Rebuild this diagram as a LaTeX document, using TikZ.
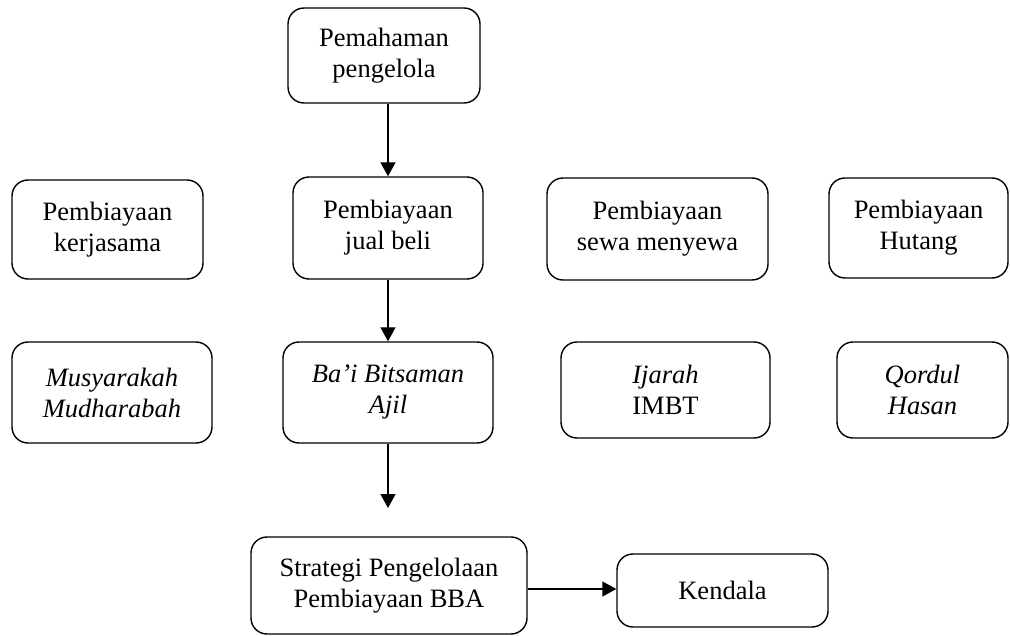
\documentclass[tikz,border=0pt]{standalone}
\usepackage{fontspec}
\setmainfont{Liberation Serif}
\usetikzlibrary{arrows.meta}
\begin{document}
\begin{tikzpicture}[
       x=1pt,
       y=-1pt,
       line width=1.4pt,
       kotak/.style={
         draw,
         rounded corners=16pt,
         align=center,
         inner sep=0pt,
         font=\fontsize{26.5}{31}\selectfont
       },
       panah/.style={
         -{Triangle[length=14pt,width=15pt]}
       }
     ]
       \useasboundingbox (0,0) rectangle (1010,636);

       \node (pemahaman) at (384,55.5) [kotak,minimum width=192pt,minimum height=95pt]{Pemahaman\\pengelola};

       \node (kerjasama) at (107.5,229.5) [kotak,minimum width=191pt,minimum height=99pt]{Pembiayaan\\kerjasama};
       \node (jualbeli) at (388,228) [kotak,minimum width=190pt,minimum height=102pt]{Pembiayaan\\jual beli};
       \node (sewa) at (657.5,229) [kotak,minimum width=221pt,minimum height=102pt]{Pembiayaan\\sewa menyewa};
       \node (hutang) at (918.5,228) [kotak,minimum width=179pt,minimum height=100pt]{Pembiayaan\\Hutang};

       \node (musyarakah) at (112,392.5) [kotak,minimum width=200pt,minimum height=101pt]{\itshape Musyarakah\\\itshape Mudharabah};
       \node (bba) at (388,392.5) [kotak,minimum width=210pt,minimum height=101pt]{\itshape Ba’i Bitsaman\\\itshape Ajil};
       \node (ijarah) at (665.5,390) [kotak,minimum width=209pt,minimum height=96pt]{\itshape Ijarah\\IMBT};
       \node (qordul) at (922.5,390) [kotak,minimum width=171pt,minimum height=96pt]{\itshape Qordul\\\itshape Hasan};

       \coordinate (ujung) at (388,508);

       \node (strategi) at (389,585.5) [kotak,minimum width=276pt,minimum height=97pt]{Strategi Pengelolaan\\Pembiayaan BBA};
       \node (kendala) at (722.5,590.5) [kotak,minimum width=211pt,minimum height=73pt]{Kendala};

       \draw[panah] (pemahaman.south -| jualbeli.north) -- (jualbeli.north);
       \draw[panah] (jualbeli.south) -- (bba.north);
       \draw[panah] (bba.south) -- (ujung);
       \draw[panah] (strategi.east |- 0,589) -- (kendala.west |- 0,589);

\end{tikzpicture}
\end{document}
